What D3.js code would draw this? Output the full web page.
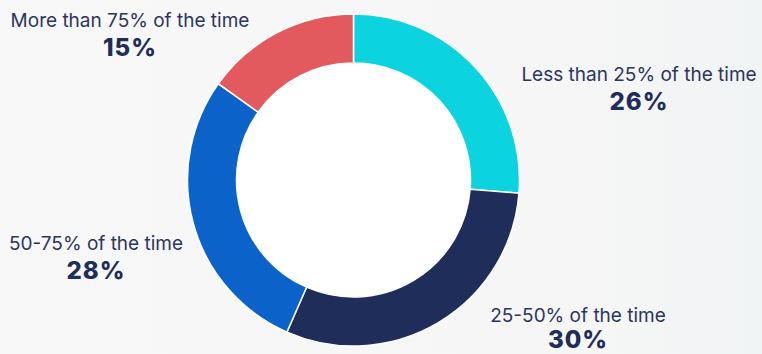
<!DOCTYPE html>
<html>
<head>
<meta charset="utf-8">
<script src="https://cdn.jsdelivr.net/npm/d3@7"></script>
<style>
  html, body { margin: 0; padding: 0; background: #f7f7f7; }
  svg { display: block; }
</style>
</head>
<body>
<svg id="chart" width="762" height="354"></svg>
<script>
// Share of time, by bucket (clockwise from 12 o'clock)
const categories = ["Less than 25% of the time", "25-50% of the time", "50-75% of the time", "More than 75% of the time"];
const values = [26, 30, 28, 15];
const colors = ["#0bd3e0", "#1f2d5a", "#0b63c9", "#e25a5d"];
// Label anchor points (centre of text block, label baseline)
const labelPos = [[639, 81], [578, 322], [96, 250], [130, 27]];

const width = 762, height = 354;
const svg = d3.select("#chart");

const defs = svg.append("defs");
const grad = defs.append("linearGradient").attr("id", "bg").attr("x1", "0").attr("x2", "1").attr("y1", "0").attr("y2", "0");
grad.append("stop").attr("offset", "0").attr("stop-color", "#f8f8f8");
grad.append("stop").attr("offset", "0.75").attr("stop-color", "#f6f6f6");
grad.append("stop").attr("offset", "1").attr("stop-color", "#f1f4f5");
svg.append("rect").attr("width", width).attr("height", height).attr("fill", "url(#bg)");

const cx = 353.5, cy = 180;
const pie = d3.pie().sort(null).value(d => d);
const arc = d3.arc().innerRadius(117).outerRadius(166);

const g = svg.append("g").attr("transform", `translate(${cx},${cy})`);
g.append("circle").attr("r", 117).attr("fill", "#ffffff");
g.selectAll("path")
  .data(pie(values))
  .join("path")
  .attr("d", arc)
  .attr("fill", (d, i) => colors[i])
  .attr("stroke", "#ffffff")
  .attr("stroke-width", 1.5);

const labels = svg.append("g")
  .attr("font-family", "Inter, 'Open Sans', sans-serif")
  .attr("text-anchor", "middle");

categories.forEach((c, i) => {
  const [x, y] = labelPos[i];
  labels.append("text")
    .attr("x", x).attr("y", y)
    .attr("font-size", 19)
    .attr("font-weight", 400)
    .attr("fill", "#2b3560")
    .text(c);
  // keep the value line clear of the bottom edge
  labels.append("text")
    .attr("x", x).attr("y", Math.min(y + 28.5, height - 6))
    .attr("font-size", 24)
    .attr("font-weight", 800)
    .attr("letter-spacing", "1")
    .attr("fill", "#1f2d5a")
    .text(values[i] + "%");
});
</script>
</body>
</html>
